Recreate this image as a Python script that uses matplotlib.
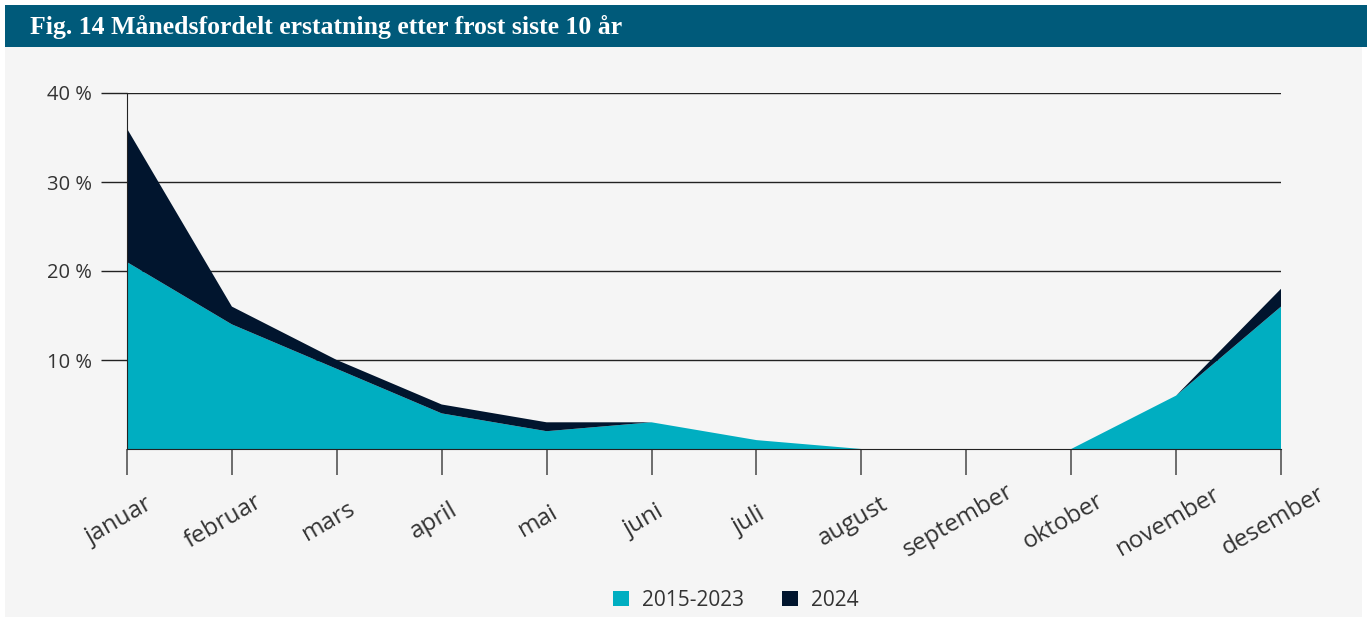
import matplotlib
matplotlib.use("Agg")
import matplotlib.pyplot as plt
from matplotlib.patches import Rectangle, Patch
from matplotlib.transforms import ScaledTranslation

months = ["januar", "februar", "mars", "april", "mai", "juni", "juli",
          "august", "september", "oktober", "november", "desember"]
s_2015_2023 = [21, 14, 9, 4, 2, 3, 1, 0, 0, 0, 6, 16]
s_2024 = [15, 2, 1, 1, 1, 0, 0, 0, 0, 0, 0, 2]
series_names = ["2015-2023", "2024"]
yticks = [10, 20, 30, 40]
ytick_labels = ["10 %", "20 %", "30 %", "40 %"]
title = "Fig. 14 Månedsfordelt erstatning etter frost siste 10 år"

c_teal = "#00aec1"
c_navy = "#01152e"
c_bar = "#005a7a"
c_bg = "#f5f5f5"
c_text = "#333333"

W, H = 1367, 622
fig = plt.figure(figsize=(W / 100, H / 100), dpi=100)
fig.patch.set_facecolor("white")

# background panel
fig.patches.append(Rectangle((5 / W, 1 - 617 / H), (1362 - 5) / W, (617 - 47) / H,
                             transform=fig.transFigure, facecolor=c_bg, edgecolor="none", zorder=-10))
# title bar
fig.patches.append(Rectangle((5 / W, 1 - 47 / H), (1367 - 5) / W, (47 - 5) / H,
                             transform=fig.transFigure, facecolor=c_bar, edgecolor="none", zorder=-10))
fig.text(30 / W, 1 - 27 / H, title, color="white", fontsize=18.5, fontweight="bold",
         family="Liberation Serif", va="center", ha="left")

left, right, top, bottom = 127, 1281, 93, 449
ax = fig.add_axes([left / W, 1 - bottom / H, (right - left) / W, (bottom - top) / H])
ax.set_facecolor(c_bg)

x = list(range(len(months)))
ax.stackplot(x, s_2015_2023, s_2024, colors=[c_teal, c_navy], labels=series_names,
             linewidth=0, zorder=2)
ax.set_xlim(0, len(months) - 1)
ax.set_ylim(0, 40)

ax.set_yticks(yticks)
ax.set_yticklabels(ytick_labels, fontsize=14.5, color=c_text, family="Open Sans")
for yv in yticks:
    ax.axhline(yv, color="#222222", linewidth=1, zorder=1)

ax.set_xticks(x)
ax.set_xticklabels(months, fontsize=17.5, color=c_text, family="Open Sans",
                   rotation=30, ha="center", va="center", rotation_mode="anchor")
ax.tick_params(axis="x", length=19, width=1.2, color="#555555", pad=33)
ax.tick_params(axis="y", length=19, width=1, color="#222222", pad=6)
shift = ScaledTranslation(-8 / 100, 0, fig.dpi_scale_trans)
for lab in ax.get_xticklabels():
    lab.set_transform(lab.get_transform() + shift)

for s in ["top", "right"]:
    ax.spines[s].set_visible(False)
ax.spines["left"].set_color("#222222")
ax.spines["bottom"].set_color("#222222")
ax.spines["left"].set_zorder(3)
ax.spines["bottom"].set_zorder(3)

handles = [Patch(facecolor=c_teal, edgecolor="none"), Patch(facecolor=c_navy, edgecolor="none")]
leg = fig.legend(handles, series_names, loc="center", bbox_to_anchor=(736 / W, 1 - 600 / H),
                 ncol=2, frameon=False, handlelength=0.75, handleheight=0.75,
                 columnspacing=1.85, handletextpad=0.62,
                 prop={"family": "Open Sans", "size": 15})
for t in leg.get_texts():
    t.set_color(c_text)

fig.savefig("out.png", dpi=100, facecolor=fig.get_facecolor())
